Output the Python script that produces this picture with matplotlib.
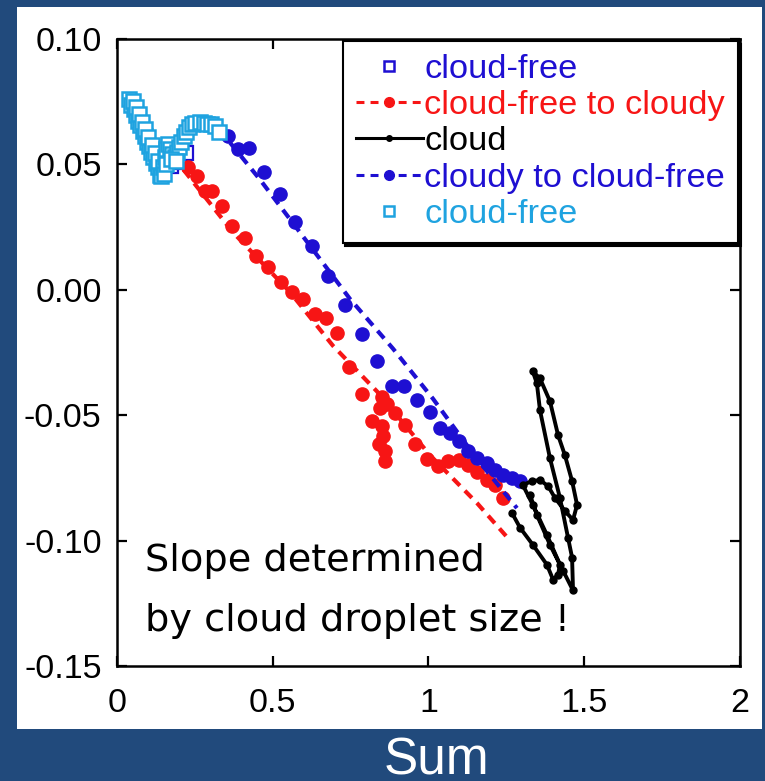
"""Cloud transition plot: difference vs. Sum, with cloud-free / cloudy branches."""


# --- import --------------------------------------------------------------------------------------


import matplotlib

matplotlib.use("Agg")

import matplotlib.pyplot as plt
from matplotlib.lines import Line2D
from matplotlib.patches import Rectangle


# --- data ----------------------------------------------------------------------------------------


# cloud-free (first period), mostly hidden under the second one
free1_x = [0.160, 0.172, 0.185, 0.198, 0.210, 0.222]
free1_y = [0.0505, 0.0495, 0.0510, 0.0520, 0.0530, 0.0545]

# cloud-free to cloudy: markers
fc_x = [0.228, 0.257, 0.283, 0.305, 0.337, 0.369, 0.411, 0.446, 0.485, 0.526, 0.562, 0.597,
        0.636, 0.671, 0.706, 0.745, 0.787, 0.851, 0.867, 0.844, 0.892, 0.819, 0.851, 0.854,
        0.841, 0.860, 0.860, 0.925, 0.957, 0.995, 1.030, 1.063, 1.098, 1.127, 1.156, 1.188,
        1.213, 1.239]
fc_y = [0.0488, 0.0456, 0.0393, 0.0393, 0.0333, 0.0254, 0.0206, 0.0135, 0.0091, 0.0032,
        -0.0008, -0.0036, -0.0095, -0.0111, -0.0171, -0.0309, -0.0413, -0.0425, -0.0456,
        -0.0472, -0.0492, -0.0524, -0.0544, -0.0583, -0.0615, -0.0643, -0.0683, -0.0540,
        -0.0615, -0.0675, -0.0702, -0.0683, -0.0679, -0.0698, -0.0726, -0.0758, -0.0778,
        -0.0829]
# cloud-free to cloudy: dashed trace
fc_line_x = [0.180, 0.372, 0.555, 0.693, 0.835, 1.005, 1.156, 1.249]
fc_line_y = [0.0532, 0.0230, -0.0008, -0.0222, -0.0405, -0.0659, -0.0850, -0.0981]

# cloudy to cloud-free: markers
cf_x = [0.356, 0.388, 0.424, 0.472, 0.523, 0.571, 0.626, 0.677, 0.732, 0.787, 0.835, 0.883,
        0.921, 0.963, 1.005, 1.037, 1.069, 1.098, 1.127, 1.156, 1.188, 1.213, 1.239, 1.268,
        1.294]
cf_y = [0.0615, 0.0560, 0.0567, 0.0472, 0.0381, 0.0270, 0.0175, 0.0056, -0.0059, -0.0175,
        -0.0282, -0.0385, -0.0385, -0.0440, -0.0488, -0.0551, -0.0571, -0.0603, -0.0643,
        -0.0671, -0.0690, -0.0718, -0.0738, -0.0750, -0.0762]
# cloudy to cloud-free: dashed trace
cf_line_x = [0.363, 0.459, 0.587, 0.748, 0.886, 1.014, 1.124, 1.188, 1.284]
cf_line_y = [0.0587, 0.0440, 0.0230, -0.0036, -0.0234, -0.0433, -0.0620, -0.0723, -0.0870]

# cloud
cloud_x = [1.268, 1.294, 1.335, 1.380, 1.400, 1.416, 1.422, 1.380, 1.335, 1.303, 1.332, 1.358,
           1.384, 1.406, 1.438, 1.464, 1.477, 1.461, 1.438, 1.416, 1.390, 1.358, 1.335, 1.348,
           1.358, 1.390, 1.422, 1.448, 1.461, 1.464, 1.432, 1.390, 1.348, 1.326]
cloud_y = [-0.0889, -0.0948, -0.1016, -0.1095, -0.1155, -0.1135, -0.1095, -0.0976, -0.0857,
           -0.0778, -0.0762, -0.0758, -0.0782, -0.0829, -0.0881, -0.0917, -0.0857, -0.0762,
           -0.0659, -0.0579, -0.0444, -0.0353, -0.0325, -0.0373, -0.0480, -0.0671, -0.0829,
           -0.0988, -0.1067, -0.1198, -0.1119, -0.1016, -0.0897, -0.0817]

# cloud-free (second period): dense, overlapping samples
free2_x = [0.040, 0.046, 0.054, 0.061, 0.067, 0.075, 0.083, 0.089, 0.096, 0.104, 0.110, 0.117,
           0.125, 0.131, 0.138, 0.052, 0.060, 0.070, 0.079, 0.090, 0.100, 0.111, 0.122, 0.131,
           0.142, 0.148, 0.153, 0.158, 0.163, 0.150, 0.156, 0.170, 0.178, 0.186, 0.193, 0.200,
           0.175, 0.190, 0.207, 0.215, 0.222, 0.230, 0.240, 0.252, 0.265, 0.278, 0.290, 0.302,
           0.315, 0.326]
free2_y = [0.0760, 0.0738, 0.0720, 0.0697, 0.0674, 0.0656, 0.0632, 0.0615, 0.0590, 0.0572,
           0.0548, 0.0530, 0.0505, 0.0488, 0.0458, 0.0752, 0.0728, 0.0700, 0.0668, 0.0640,
           0.0610, 0.0578, 0.0545, 0.0512, 0.0455, 0.0490, 0.0528, 0.0560, 0.0580, 0.0462,
           0.0500, 0.0560, 0.0540, 0.0530, 0.0550, 0.0570, 0.0520, 0.0512, 0.0590, 0.0612,
           0.0630, 0.0648, 0.0660, 0.0665, 0.0668, 0.0665, 0.0662, 0.0660, 0.0655, 0.0630]

x_ticks = [0, 0.5, 1, 1.5, 2]
x_ticklabels = ["0", "0.5", "1", "1.5", "2"]
y_ticks = [-0.15, -0.10, -0.05, 0.00, 0.05, 0.10]
y_ticklabels = ["-0.15", "-0.10", "-0.05", "0.00", "0.05", "0.10"]


# --- style ---------------------------------------------------------------------------------------


bg = "#214a7c"
c_blue = "#1e0fd2"
c_red = "#f71515"
c_cyan = "#1fa3e0"
font = "Liberation Sans"
dash = (0, (2.4, 1.7))


# --- plot ----------------------------------------------------------------------------------------


fig = plt.figure(figsize=(7.65, 7.81), dpi=100, facecolor=bg)
fig.patches.append(
    Rectangle((0.0222, 0.0666), 0.9739, 0.9245, transform=fig.transFigure,
              facecolor="white", edgecolor="none", zorder=-10)
)
ax = fig.add_axes([0.1529, 0.147, 0.8144, 0.803])
ax.set_facecolor("white")

ax.plot(free1_x, free1_y, ls="none", marker="s", ms=10.5, mfc="white", mec=c_blue, mew=1.6,
        zorder=2)
ax.plot(fc_line_x, fc_line_y, ls=dash, lw=3, c=c_red, zorder=3)
ax.plot(fc_x, fc_y, ls="none", marker="o", ms=9.5, c=c_red, zorder=3)
ax.plot(cf_line_x, cf_line_y, ls=dash, lw=3, c=c_blue, zorder=4)
ax.plot(cf_x, cf_y, ls="none", marker="o", ms=9.5, c=c_blue, zorder=4)
ax.plot(cloud_x, cloud_y, ls="-", lw=2.8, c="k", marker="o", ms=5, zorder=5)
ax.plot(free2_x, free2_y, ls="none", marker="s", ms=10.5, mfc="white", mec=c_cyan, mew=1.8,
        zorder=6)

ax.set_xlim(0, 2)
ax.set_ylim(-0.15, 0.10)
ax.set_xticks(x_ticks)
ax.set_xticklabels(x_ticklabels, fontname=font)
ax.set_yticks(y_ticks)
ax.set_yticklabels(y_ticklabels, fontname=font)
ax.tick_params(direction="in", length=7, width=1.6, top=True, right=True, labelsize=24.5)
ax.tick_params(axis="x", pad=16)
ax.tick_params(axis="y", pad=11)
for spine in ax.spines.values():
    spine.set_linewidth(1.8)

# legend
handles = [
    Line2D([], [], ls="none", marker="s", ms=7, mfc="white", mec=c_blue, mew=1.8),
    Line2D([], [], ls=(0, (2.6, 2)), lw=2.2, c=c_red, marker="o", ms=7),
    Line2D([], [], ls="-", lw=2.2, c="k", marker="o", ms=4),
    Line2D([], [], ls=(0, (2.6, 2)), lw=2.2, c=c_blue, marker="o", ms=7),
    Line2D([], [], ls="none", marker="s", ms=7, mfc="white", mec=c_cyan, mew=1.8),
]
labels = ["cloud-free", "cloud-free to cloudy", "cloud", "cloudy to cloud-free", "cloud-free"]
leg = ax.legend(handles, labels, loc="upper right", borderaxespad=0.05, numpoints=1,
                handlelength=1.95, handletextpad=0.05, labelspacing=0.15, borderpad=0.38,
                prop={"family": font, "size": 24.75}, fancybox=False, framealpha=1,
                edgecolor="k", shadow={"color": "k", "alpha": 1})
leg.get_frame().set_linewidth(1.5)
for text, color in zip(leg.get_texts(), [c_blue, c_red, "k", c_blue, c_cyan]):
    text.set_color(color)

# annotation
ax.text(0.09, -0.1120, "Slope determined", fontsize=27.5, ha="left", va="baseline",
        family="DejaVu Sans", zorder=7)
ax.text(0.09, -0.1358, "by cloud droplet size !", fontsize=27.5, ha="left", va="baseline",
        family="DejaVu Sans", zorder=7)

fig.text(0.570, 0.008, "Sum", color="white", fontsize=37, ha="center", va="baseline",
         fontname=font)

fig.savefig("out.png", dpi=100, facecolor=bg)
